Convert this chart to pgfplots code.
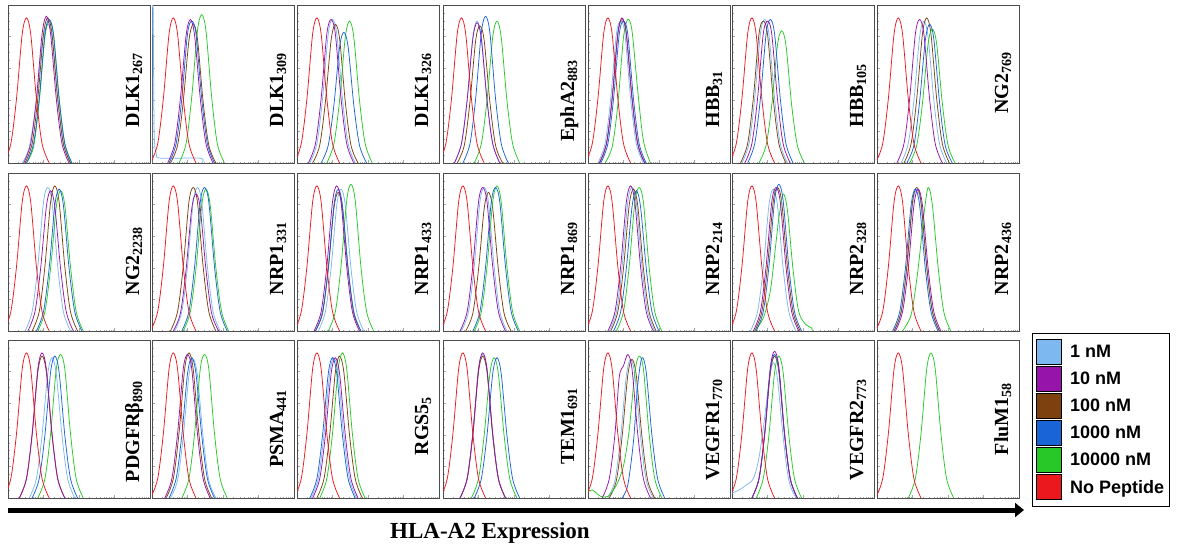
\documentclass[border=0pt]{standalone}
\usepackage{pgfplots}
\pgfplotsset{compat=1.18}
\usepackage{fontspec}
\setmainfont{Liberation Serif}
\setsansfont{Liberation Sans}
\usetikzlibrary{arrows.meta}

\definecolor{cLB}{RGB}{125,185,240}
\definecolor{cP}{RGB}{150,20,170}
\definecolor{cB}{RGB}{125,65,15}
\definecolor{cBl}{RGB}{25,100,215}
\definecolor{cG}{RGB}{40,200,40}
\definecolor{cR}{RGB}{235,25,30}

\pgfplotsset{
  panel/.style={scale only axis, width=142pt, height=158pt, anchor=south west,
    xmin=0, xmax=100, ymin=0, ymax=98, no markers,
    axis line style={black!70, line width=0.9pt},
    xtick={0,25,50,75,100},
    minor xtick={7.5,11.9,15.1,17.5,19.5,21.1,22.6,23.9,32.5,36.9,40.1,42.5,44.5,46.1,47.6,48.9,57.5,61.9,65.1,67.5,69.5,71.1,72.6,73.9,82.5,86.9,90.1,92.5,94.5,96.1,97.6,98.9},
    ytick={0,19.6,39.2,58.8,78.4,98}, minor y tick num=3,
    xticklabels={}, yticklabels={},
    tick style={black!35, line width=0.4pt}, major tick length=3pt, minor tick length=1.5pt,
    tick align=inside, xtick pos=bottom, ytick pos=left},
  sLB/.style={draw=cLB, line width=0.75pt, smooth},
  sP/.style={draw=cP, line width=0.75pt, smooth},
  sB/.style={draw=cB, line width=0.75pt, smooth},
  sBl/.style={draw=cBl, line width=0.75pt, smooth},
  sG/.style={draw=cG, line width=0.75pt, smooth},
  sR/.style={draw=cR, line width=0.75pt, smooth},
  legendbox/.style={
    legend image code/.code={\fill[##1] (5pt,-12.5pt) rectangle (30pt,12.5pt);},
    legend style={at={(1.0915,1.044)}, anchor=north west, draw=black, line width=0.8pt,
      font=\sffamily\bfseries\fontsize{18}{18}\selectfont,
      inner xsep=4pt, inner ysep=6pt, row sep=1.2pt, nodes={inner sep=1pt},
      /tikz/every odd column/.append style={column sep=7pt}},
    legend cell align=left}
}
\tikzset{plab/.style={rotate=90, anchor=base west, inner sep=0pt, font=\fontsize{20}{22}\selectfont\bfseries}}

\newcommand{\panel}[6][]{%
  \begin{axis}[panel, at={(#2pt,-#3pt)}, #1]
  #6
  \node[plab] at (rel axis cs:0.923,#5) {#4};
  \end{axis}}

\begin{document}
\begin{tikzpicture}
\useasboundingbox (0,0) rectangle (1178pt,-550pt);

% ---------------- row 1 ----------------
\panel{8}{163}{DLK1\textsubscript{267}}{0.224}{
\addplot[sLB] coordinates {(10,0)(15,10)(20,38)(24,74)(28,86)(31,78)(35,40)(39,12)(44,0)};
\addplot[sB] coordinates {(12,0)(17,12)(21,40)(25,80)(28,90)(31,80)(35,40)(39,12)(44,0)};
\addplot[sG] coordinates {(13,0)(18,10)(22,38)(26,78)(29,88)(32,80)(36,40)(40,12)(45,0)};
\addplot[sBl] coordinates {(13,0)(18,12)(22,40)(26,80)(29,89)(32,80)(36,40)(40,12)(45,0)};
\addplot[sP] coordinates {(11,0)(16,12)(20,40)(24,80)(27,91)(30,80)(34,40)(38,12)(43,0)};
\addplot[sR] coordinates {(-3,0)(2,12)(6,40)(10,80)(13,90)(16,80)(20,40)(24,12)(29,0)};
}
\panel{152}{163}{DLK1\textsubscript{309}}{0.224}{
\addplot[sLB] coordinates {(0,0)(0,96)(0.8,96)(1.5,20)(3,6)(6,3)(34,3)(35,0)};
\addplot[sB] coordinates {(13,0)(18,11)(22,38)(26,76)(29,86)(32,77)(36,38)(40,11)(45,0)};
\addplot[sG] coordinates {(19,0)(24,12)(28,41)(32,82)(35,92)(38,82)(42,41)(46,12)(51,0)};
\addplot[sBl] coordinates {(12,0)(17,12)(21,40)(25,80)(28,88)(31,80)(35,40)(39,12)(44,0)};
\addplot[sP] coordinates {(11,0)(16,12)(20,40)(24,79)(27,89)(30,79)(34,40)(38,12)(43,0)};
\addplot[sR] coordinates {(-1,0)(4,12)(8,40)(12,80)(15,90)(18,80)(22,40)(26,12)(31,0)};
}
\panel{297}{163}{DLK1\textsubscript{326}}{0.224}{
\addplot[sLB] coordinates {(9,0)(14,12)(18,40)(22,80)(25,89)(28,80)(32,40)(36,12)(41,0)};
\addplot[sB] coordinates {(11,0)(16,11)(20,38)(24,76)(27,86)(30,77)(34,38)(38,11)(43,0)};
\addplot[sG] coordinates {(21,0)(26,12)(30,39)(34,78)(37,88)(40,78)(44,39)(48,12)(53,0)};
\addplot[sBl] coordinates {(17,0)(22,11)(26,36)(30,72)(33,81)(36,72)(40,36)(44,11)(49,0)};
\addplot[sP] coordinates {(8,0)(13,12)(17,40)(21,80)(24,89)(27,80)(31,40)(35,12)(40,0)};
\addplot[sR] coordinates {(-2,0)(3,12)(7,40)(11,80)(14,90)(17,80)(21,40)(25,12)(30,0)};
}
\panel{443}{163}{EphA2\textsubscript{883}}{0.135}{
\addplot[sLB] coordinates {(8,0)(13,12)(17,39)(21,78)(24,88)(27,78)(31,39)(35,12)(40,0)};
\addplot[sB] coordinates {(10,0)(15,11)(19,38)(23,76)(26,85)(29,76)(33,38)(37,11)(42,0)};
\addplot[sG] coordinates {(22,0)(27,12)(31,39)(35,78)(38,88)(41,78)(45,39)(49,12)(54,0)};
\addplot[sBl] coordinates {(14,0)(19,12)(23,40)(27,81)(30,91)(33,81)(37,40)(41,12)(46,0)};
\addplot[sP] coordinates {(8,0)(13,12)(17,39)(21,77)(24,87)(27,77)(31,39)(35,12)(40,0)};
\addplot[sR] coordinates {(-3,0)(2,12)(6,40)(10,80)(13,90)(16,80)(20,40)(24,12)(29,0)};
}
\panel{588}{163}{HBB\textsubscript{31}}{0.224}{
\addplot[sLB] coordinates {(7,0)(12,12)(16,40)(20,80)(23,88)(26,80)(30,40)(34,12)(39,0)};
\addplot[sB] coordinates {(8,0)(13,12)(17,40)(21,80)(24,89)(27,80)(31,40)(35,12)(40,0)};
\addplot[sG] coordinates {(12,0)(17,10)(21,36)(25,78)(28,89)(31,82)(35,45)(39,14)(44,0)};
\addplot[sBl] coordinates {(9,0)(14,12)(18,40)(22,80)(25,88)(28,80)(32,40)(36,12)(41,0)};
\addplot[sP] coordinates {(8,0)(13,12)(17,40)(21,80)(24,90)(27,80)(31,40)(35,12)(40,0)};
\addplot[sR] coordinates {(-2,0)(3,12)(7,40)(11,80)(14,90)(17,80)(21,40)(25,12)(30,0)};
}
\panel{732}{163}{HBB\textsubscript{105}}{0.224}{
\addplot[sLB] coordinates {(7,0)(12,12)(16,40)(20,80)(23,89)(26,80)(30,40)(34,12)(39,0)};
\addplot[sB] coordinates {(6,0)(11,12)(15,40)(19,80)(22,88)(25,80)(29,40)(33,12)(38,0)};
\addplot[sG] coordinates {(19,0)(24,11)(28,36)(32,73)(35,82)(38,73)(42,36)(46,11)(51,0)};
\addplot[sBl] coordinates {(11,0)(16,12)(20,40)(24,80)(27,89)(30,80)(34,40)(38,12)(43,0)};
\addplot[sP] coordinates {(9,0)(14,12)(18,40)(22,80)(25,88)(28,80)(32,40)(36,12)(41,0)};
\addplot[sR] coordinates {(-2,0)(3,12)(7,40)(11,80)(14,90)(17,80)(21,40)(25,12)(30,0)};
}
\panel{877}{163}{NG2\textsubscript{769}}{0.31}{
\addplot[sLB] coordinates {(17,0)(22,12)(26,39)(30,78)(33,88)(36,78)(40,39)(44,12)(49,0)};
\addplot[sB] coordinates {(19,0)(24,12)(28,40)(32,80)(35,90)(38,80)(42,40)(46,12)(51,0)};
\addplot[sG] coordinates {(23,0)(28,11)(32,37)(36,74)(39,83)(42,74)(46,37)(50,11)(55,0)};
\addplot[sBl] coordinates {(21,0)(26,11)(30,38)(34,76)(37,86)(40,77)(44,38)(48,11)(53,0)};
\addplot[sP] coordinates {(14,0)(19,12)(23,40)(27,80)(30,89)(33,80)(37,40)(41,12)(46,0)};
\addplot[sR] coordinates {(-1,0)(4,12)(8,40)(12,80)(15,90)(18,80)(22,40)(26,12)(31,0)};
}

% ---------------- row 2 ----------------
\panel{8}{331}{NG2\textsubscript{2238}}{0.226}{
\addplot[sLB] coordinates {(12,0)(17,12)(21,40)(25,80)(28,89)(31,80)(35,40)(39,12)(44,0)};
\addplot[sB] coordinates {(17,0)(22,12)(26,40)(30,80)(33,90)(36,80)(40,40)(44,12)(49,0)};
\addplot[sG] coordinates {(21,0)(26,12)(30,39)(34,77)(37,87)(40,78)(44,40)(48,12)(53,0)};
\addplot[sBl] coordinates {(20,0)(25,12)(29,39)(33,78)(36,88)(39,78)(43,39)(47,12)(52,0)};
\addplot[sP] coordinates {(14,0)(19,12)(23,39)(27,77)(30,87)(33,77)(37,39)(41,12)(46,0)};
\addplot[sR] coordinates {(-3,0)(2,12)(6,40)(10,80)(13,90)(16,80)(20,40)(24,12)(29,0)};
}
\panel{152}{331}{NRP1\textsubscript{331}}{0.226}{
\addplot[sLB] coordinates {(16,0)(21,12)(25,40)(29,80)(32,89)(35,80)(39,40)(43,12)(48,0)};
\addplot[sB] coordinates {(13,0)(18,12)(22,40)(26,80)(29,89)(32,80)(36,40)(40,12)(45,0)};
\addplot[sG] coordinates {(22,0)(27,12)(31,39)(35,78)(38,88)(41,78)(45,39)(49,12)(54,0)};
\addplot[sBl] coordinates {(21,0)(26,12)(30,40)(34,80)(37,89)(40,80)(44,40)(48,12)(53,0)};
\addplot[sP] coordinates {(15,0)(20,11)(24,38)(28,76)(31,85)(34,76)(38,38)(42,11)(47,0)};
\addplot[sR] coordinates {(-1,0)(4,12)(8,40)(12,80)(15,90)(18,80)(22,40)(26,12)(31,0)};
}
\panel{297}{331}{NRP1\textsubscript{433}}{0.226}{
\addplot[sLB] coordinates {(15,0)(20,12)(24,39)(28,78)(31,88)(34,78)(38,39)(42,12)(47,0)};
\addplot[sB] coordinates {(13,0)(18,11)(22,38)(26,76)(29,86)(32,76)(36,38)(40,11)(45,0)};
\addplot[sG] coordinates {(22,0)(27,12)(31,40)(35,81)(38,91)(41,81)(45,40)(49,12)(54,0)};
\addplot[sBl] coordinates {(13,0)(18,12)(22,39)(26,78)(29,88)(32,78)(36,39)(40,12)(45,0)};
\addplot[sP] coordinates {(12,0)(17,12)(21,40)(25,80)(28,90)(31,80)(35,40)(39,12)(44,0)};
\addplot[sR] coordinates {(-2,0)(3,12)(7,40)(11,80)(14,90)(17,80)(21,40)(25,12)(30,0)};
}
\panel{443}{331}{NRP1\textsubscript{869}}{0.226}{
\addplot[sLB] coordinates {(13,0)(18,12)(22,40)(26,80)(29,89)(32,80)(36,40)(40,12)(45,0)};
\addplot[sB] coordinates {(16,0)(21,11)(25,38)(29,76)(32,86)(35,76)(39,38)(43,11)(48,0)};
\addplot[sG] coordinates {(22,0)(27,12)(31,40)(35,80)(38,90)(41,80)(45,40)(49,12)(54,0)};
\addplot[sBl] coordinates {(21,0)(26,12)(30,40)(34,80)(37,89)(40,80)(44,40)(48,12)(53,0)};
\addplot[sP] coordinates {(12,0)(17,12)(21,40)(25,80)(28,89)(31,80)(35,40)(39,12)(44,0)};
\addplot[sR] coordinates {(-2,0)(3,12)(7,40)(11,80)(14,90)(17,80)(21,40)(25,12)(30,0)};
}
\panel{588}{331}{NRP2\textsubscript{214}}{0.226}{
\addplot[sLB] coordinates {(15,0)(20,12)(24,40)(28,80)(31,89)(34,80)(38,40)(42,12)(47,0)};
\addplot[sB] coordinates {(16,0)(21,12)(25,39)(29,78)(32,88)(35,78)(39,39)(43,12)(48,0)};
\addplot[sG] coordinates {(20,0)(25,12)(29,40)(33,80)(36,89)(39,80)(43,40)(47,12)(52,0)};
\addplot[sBl] coordinates {(18,0)(23,12)(27,39)(31,77)(34,87)(37,77)(41,39)(45,12)(50,0)};
\addplot[sP] coordinates {(14,0)(19,12)(23,40)(27,80)(30,90)(33,80)(37,40)(41,12)(46,0)};
\addplot[sR] coordinates {(-2,0)(3,12)(7,40)(11,80)(14,90)(17,80)(21,40)(25,12)(30,0)};
}
\panel{732}{331}{NRP2\textsubscript{328}}{0.226}{
\addplot[sLB] coordinates {(13,0)(18,12)(22,39)(26,78)(29,88)(32,78)(36,39)(40,12)(45,0)};
\addplot[sB] coordinates {(16,0)(21,12)(25,40)(29,80)(32,89)(35,80)(39,40)(43,12)(48,0)};
\addplot[sG] coordinates {(16,0)(22,8)(27,25)(31,55)(33,70)(36,85)(39,75)(43,38)(47,12)(52,4)(56,2)(56.5,0)};
\addplot[sBl] coordinates {(17,0)(22,12)(26,40)(30,81)(33,91)(36,81)(40,40)(44,12)(49,0)};
\addplot[sP] coordinates {(15,0)(20,12)(24,40)(28,80)(31,89)(34,80)(38,40)(42,12)(47,0)};
\addplot[sR] coordinates {(-2,0)(3,12)(7,40)(11,80)(14,90)(17,80)(21,40)(25,12)(30,0)};
}
\panel{877}{331}{NRP2\textsubscript{436}}{0.226}{
\addplot[sLB] coordinates {(12,0)(17,12)(21,39)(25,78)(28,88)(31,78)(35,39)(39,12)(44,0)};
\addplot[sB] coordinates {(12,0)(17,12)(21,40)(25,80)(28,89)(31,80)(35,40)(39,12)(44,0)};
\addplot[sG] coordinates {(18,0)(24,10)(28,32)(31,55)(33,72)(36,89)(39,78)(43,40)(47,12)(52,0)};
\addplot[sBl] coordinates {(11,0)(16,12)(20,39)(24,78)(27,88)(30,78)(34,39)(38,12)(43,0)};
\addplot[sP] coordinates {(13,0)(18,12)(22,39)(26,78)(29,88)(32,78)(36,39)(40,12)(45,0)};
\addplot[sR] coordinates {(-1,0)(4,12)(8,40)(12,80)(15,90)(18,80)(22,40)(26,12)(31,0)};
}

% ---------------- row 3 ----------------
\panel{8}{498}{PDGFRβ\textsubscript{890}}{0.10}{
\addplot[sLB] coordinates {(15,0)(20,12)(24,39)(28,77)(31,87)(34,77)(38,39)(42,12)(47,0)};
\addplot[sB] coordinates {(8,0)(13,12)(17,39)(21,78)(24,88)(27,78)(31,39)(35,12)(40,0)};
\addplot[sG] coordinates {(21,0)(26,12)(30,40)(34,80)(37,89)(40,80)(44,40)(48,12)(53,0)};
\addplot[sBl] coordinates {(17,0)(22,12)(26,39)(30,78)(33,88)(36,78)(40,39)(44,12)(49,0)};
\addplot[sP] coordinates {(8,0)(13,12)(17,40)(21,80)(24,90)(27,80)(31,40)(35,12)(40,0)};
\addplot[sR] coordinates {(-3,0)(2,12)(6,40)(10,80)(13,90)(16,80)(20,40)(24,12)(29,0)};
}
\panel{152}{498}{PSMA\textsubscript{441}}{0.19}{
\addplot[sLB] coordinates {(13,0)(18,11)(22,38)(26,76)(29,86)(32,76)(36,38)(40,11)(45,0)};
\addplot[sB] coordinates {(10,0)(15,12)(19,40)(23,80)(26,90)(29,80)(33,40)(37,12)(42,0)};
\addplot[sG] coordinates {(21,0)(26,12)(30,40)(34,80)(37,89)(40,80)(44,40)(48,12)(53,0)};
\addplot[sBl] coordinates {(12,0)(17,12)(21,39)(25,77)(28,87)(31,77)(35,39)(39,12)(44,0)};
\addplot[sP] coordinates {(9,0)(14,12)(18,40)(22,80)(25,89)(28,80)(32,40)(36,12)(41,0)};
\addplot[sR] coordinates {(-1,0)(4,12)(8,40)(12,80)(15,90)(18,80)(22,40)(26,12)(31,0)};
}
\panel{297}{498}{RGS5\textsubscript{5}}{0.27}{
\addplot[sLB] coordinates {(10,0)(15,12)(19,39)(23,77)(26,87)(29,77)(33,39)(37,12)(42,0)};
\addplot[sB] coordinates {(14,0)(19,12)(23,39)(27,78)(30,88)(33,78)(37,39)(41,12)(46,0)};
\addplot[sG] coordinates {(16,0)(21,12)(25,40)(29,80)(32,90)(35,80)(39,40)(43,12)(48,0)};
\addplot[sBl] coordinates {(9,0)(14,12)(18,39)(22,77)(25,87)(28,77)(32,39)(36,12)(41,0)};
\addplot[sP] coordinates {(11,0)(16,12)(20,39)(24,77)(27,87)(30,77)(34,39)(38,12)(43,0)};
\addplot[sR] coordinates {(-2,0)(3,12)(7,40)(11,80)(14,90)(17,80)(21,40)(25,12)(30,0)};
}
\panel{443}{498}{TEM1\textsubscript{691}}{0.21}{
\addplot[sLB] coordinates {(12,0)(17,12)(21,40)(25,80)(28,89)(31,80)(35,40)(39,12)(44,0)};
\addplot[sB] coordinates {(12,0)(17,12)(21,39)(25,78)(28,88)(31,78)(35,39)(39,12)(44,0)};
\addplot[sG] coordinates {(20,0)(25,12)(29,39)(33,77)(36,87)(39,77)(43,39)(47,12)(52,0)};
\addplot[sBl] coordinates {(22,0)(27,12)(31,39)(35,77)(38,87)(41,77)(45,39)(49,12)(54,0)};
\addplot[sP] coordinates {(12,0)(17,12)(21,40)(25,80)(28,90)(31,80)(35,40)(39,12)(44,0)};
\addplot[sR] coordinates {(-2,0)(3,12)(7,40)(11,80)(14,90)(17,80)(21,40)(25,12)(30,0)};
}
\panel{588}{498}{VEGFR1\textsubscript{770}}{0.11}{
\addplot[sLB] coordinates {(14,0)(19,11)(23,38)(27,76)(30,86)(33,76)(37,38)(41,11)(46,0)};
\addplot[sB] coordinates {(15,0)(20,11)(24,38)(28,76)(31,86)(34,76)(38,38)(42,11)(47,0)};
\addplot[sG] coordinates {(0,4)(3,5)(6,3)(9,1)(14,1)(20,8)(25,20)(29,42)(33,78)(36,88)(39,80)(43,40)(47,12)(52,0)};
\addplot[sBl] coordinates {(24,0)(28,8)(32,35)(35,70)(38,87)(41,78)(45,39)(49,12)(54,0)};
\addplot[sP] coordinates {(10,0)(15,12)(19,40)(22,75)(25,82)(28,89)(31,80)(35,40)(39,12)(44,0)};
\addplot[sR] coordinates {(-2,0)(3,12)(7,40)(11,80)(14,90)(17,80)(21,40)(25,12)(30,0)};
}
\panel{732}{498}{VEGFR2\textsubscript{773}}{0.11}{
\addplot[sLB] coordinates {(0,3)(5,5)(10,8)(15,12)(19,25)(23,50)(26,72)(29,84)(32,74)(36,38)(40,11)(45,0)};
\addplot[sB] coordinates {(14,0)(19,12)(23,39)(27,78)(30,88)(33,78)(37,39)(41,12)(46,0)};
\addplot[sG] coordinates {(17,0)(22,12)(26,39)(30,78)(33,88)(36,78)(40,39)(44,12)(49,0)};
\addplot[sBl] coordinates {(14,0)(19,12)(23,40)(27,80)(30,89)(33,80)(37,40)(41,12)(46,0)};
\addplot[sP] coordinates {(14,0)(19,12)(23,40)(27,81)(30,91)(33,81)(37,40)(41,12)(46,0)};
\addplot[sR] coordinates {(-2,0)(3,12)(7,40)(11,80)(14,90)(17,80)(21,40)(25,12)(30,0)};
}
\panel[legendbox]{877}{498}{FluM1\textsubscript{58}}{0.27}{
\addplot[sG, forget plot] coordinates {(22,0)(27,12)(31,40)(35,80)(38,90)(41,80)(45,40)(49,12)(54,0)};
\addplot[sR, forget plot] coordinates {(-1,0)(4,12)(8,40)(12,80)(15,90)(18,80)(22,40)(26,12)(31,0)};
\addlegendimage{fill=cLB}\addlegendentry{1 nM}
\addlegendimage{fill=cP}\addlegendentry{10 nM}
\addlegendimage{fill=cB}\addlegendentry{100 nM}
\addlegendimage{fill=cBl}\addlegendentry{1000 nM}
\addlegendimage{fill=cG}\addlegendentry{10000 nM}
\addlegendimage{fill=cR}\addlegendentry{No Peptide}
}

% axis arrow and caption
\draw[line width=5pt, -{Triangle[length=9pt,width=14pt]}] (8pt,-510pt) -- (1024pt,-510pt);
\node[font=\bfseries\fontsize{23}{24}\selectfont] at (490pt,-533pt) {HLA-A2 Expression};
\end{tikzpicture}
\end{document}
